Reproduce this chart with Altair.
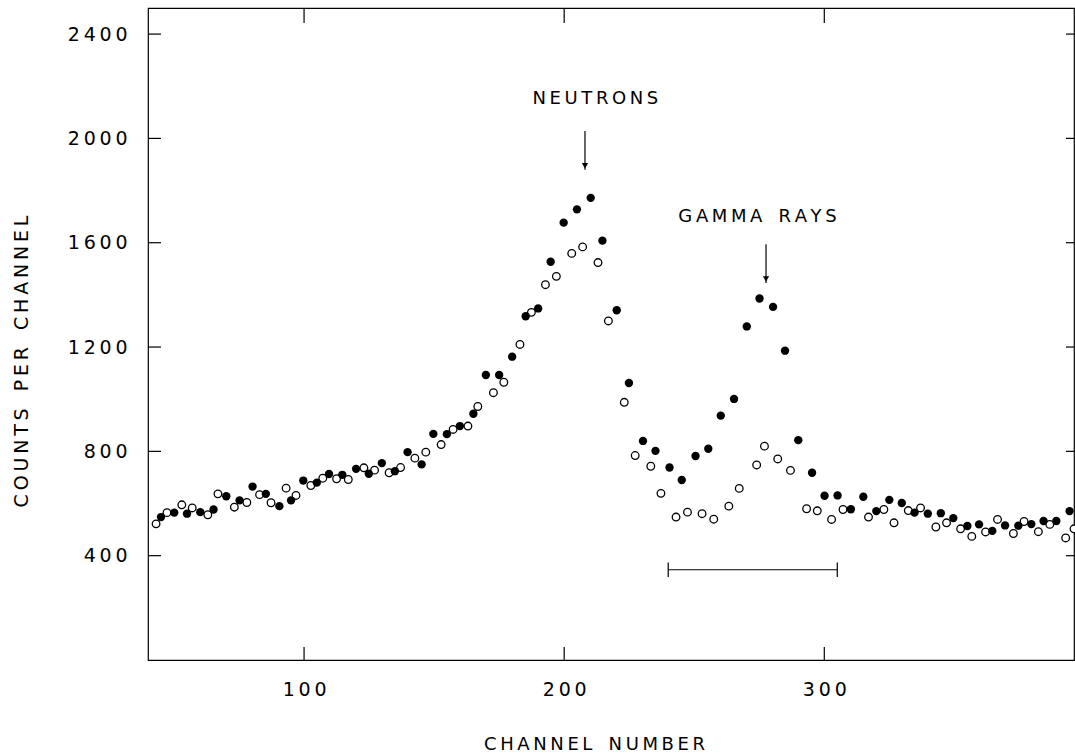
import altair as alt
import pandas as pd

# Pulse-height spectra: counts per channel for two runs
filled_channel = [45.0, 50.1, 55.0, 60.1, 65.2, 70.1, 75.2, 80.2, 85.3, 90.5,
                  95.0, 99.7, 104.9, 109.6, 114.7, 120.0, 124.9, 129.9, 134.9, 139.8,
                  145.2, 149.7, 154.9, 159.9, 165.1, 169.9, 175.0, 180.0, 185.2, 190.0,
                  194.8, 199.8, 204.9, 210.2, 214.7, 220.2, 224.9, 230.3, 235.1, 240.5,
                  245.2, 250.5, 255.4, 260.2, 265.3, 270.2, 275.1, 280.3, 284.9, 290.0,
                  295.3, 300.1, 305.1, 310.2, 315.0, 320.0, 325.0, 329.8, 334.7, 339.8,
                  344.8, 349.6, 355.0, 359.5, 364.6, 369.5, 374.6, 379.6, 384.3, 389.2,
                  394.3]
filled_counts = [548, 565, 561, 567, 577, 628, 612, 665, 637, 590,
                 612, 688, 680, 713, 710, 733, 714, 755, 724, 797,
                 750, 867, 866, 897, 944, 1093, 1093, 1163, 1318, 1348,
                 1527, 1677, 1728, 1772, 1608, 1341, 1062, 840, 802, 738,
                 690, 782, 810, 937, 1001, 1279, 1386, 1354, 1186, 843,
                 718, 630, 631, 578, 626, 571, 614, 602, 565, 561,
                 563, 544, 514, 520, 495, 516, 515, 521, 533, 533,
                 571]

open_channel = [43.1, 47.3, 53.0, 57.0, 63.0, 66.9, 73.2, 78.0, 82.9, 87.3,
                93.1, 96.9, 102.6, 107.2, 112.5, 117.0, 123.0, 127.1, 132.7, 137.1,
                142.6, 146.8, 152.7, 157.3, 163.0, 166.8, 172.8, 176.8, 183.0, 187.4,
                192.8, 197.0, 202.9, 207.1, 213.0, 217.0, 223.1, 227.3, 233.3, 237.2,
                243.0, 247.4, 253.0, 257.5, 263.3, 267.3, 274.0, 277.0, 282.1, 287.0,
                293.2, 297.3, 302.8, 307.2, 317.0, 322.9, 326.8, 332.3, 337.0, 342.9,
                347.0, 352.4, 356.7, 362.0, 366.6, 372.7, 376.8, 382.3, 386.7, 392.8,
                396.0]
open_counts = [522, 565, 595, 583, 557, 637, 586, 604, 634, 603,
               659, 631, 669, 697, 695, 692, 737, 728, 718, 738,
               774, 797, 826, 884, 897, 972, 1025, 1065, 1210, 1333,
               1439, 1471, 1559, 1584, 1524, 1300, 988, 784, 743, 639,
               548, 567, 561, 540, 590, 658, 748, 820, 771, 727,
               580, 572, 539, 577, 548, 577, 526, 573, 583, 510,
               526, 503, 474, 491, 539, 485, 531, 492, 520, 468,
               503]

x_ticks = [100, 200, 300]
y_ticks = [400, 800, 1200, 1600, 2000, 2400]

# Annotation anchors (channel, counts)
labels = ["NEUTRONS", "GAMMA RAYS"]
label_channel = [212.0, 274.3]
label_counts = [2150, 1700]
arrow_channel = [208.0, 277.6]
arrow_top = [2028, 1594]
arrow_tip = [1880, 1446]
window_lo, window_hi, window_level = 240, 305, 346

W, H = 926, 652
SP = "\u2009"  # thin space used for the spaced-out lettering
EN = "\u2002"  # en space for the gaps between words (SVG collapses plain spaces)
FONT = "DejaVu Sans"


def spaced(text, gap=EN):
    # letter-space each word, and leave a wider gap between words
    return (SP + gap + SP).join(SP.join(w) for w in text.split(" "))


filled_df = pd.DataFrame({"ch": filled_channel, "n": filled_counts})
open_df = pd.DataFrame({"ch": open_channel, "n": open_counts})
xs = alt.Scale(domain=[40, 396], nice=False, zero=False)
ys = alt.Scale(domain=[0, 2500], nice=False)

x_enc = alt.X("ch:Q", scale=xs, axis=alt.Axis(
    title=spaced("CHANNEL NUMBER"),
    values=x_ticks, format="d", grid=False, ticks=False, tickSize=0, domain=False,
    labelExpr="join(split(datum.label, ''), '" + SP + "')",
    labelPadding=20, labelFontSize=19, labelFont=FONT, labelColor="black",
    titleFont=FONT, titleFontSize=18, titleFontWeight="normal", titleColor="black",
    titleX=446, titleY=84, titleBaseline="middle", titleAlign="center"))
y_enc = alt.Y("n:Q", scale=ys, axis=alt.Axis(
    title=spaced("COUNTS PER CHANNEL"),
    values=y_ticks, format="d", grid=False, ticks=False, tickSize=0, domain=False,
    labelExpr="join(split(datum.label, ''), '" + SP + "')",
    labelPadding=21, labelFontSize=19, labelFont=FONT, labelColor="black",
    titleFont=FONT, titleFontSize=19, titleFontWeight="normal", titleColor="black",
    titleX=-127, titleY=353, titleAngle=270, titleBaseline="middle", titleAlign="center"))

open_pts = alt.Chart(open_df).mark_circle(
    size=58, fill="white", stroke="black", strokeWidth=1.3, opacity=1
).encode(x=x_enc, y=y_enc)

filled_pts = alt.Chart(filled_df).mark_circle(
    size=70, color="black", opacity=1
).encode(x="ch:Q", y="n:Q")

# Inward ticks on all four sides of the frame
xt = pd.DataFrame({"ch": x_ticks})
yt = pd.DataFrame({"n": y_ticks})
tick_style = dict(color="black", strokeWidth=1.2)
bottom_ticks = alt.Chart(xt).mark_rule(**tick_style).encode(
    x="ch:Q", y=alt.value(H), y2=alt.value(H - 13))
top_ticks = alt.Chart(xt).mark_rule(**tick_style).encode(
    x="ch:Q", y=alt.value(0), y2=alt.value(15))
left_ticks = alt.Chart(yt).mark_rule(**tick_style).encode(
    y="n:Q", x=alt.value(0), x2=alt.value(13))
right_ticks = alt.Chart(yt).mark_rule(**tick_style).encode(
    y="n:Q", x=alt.value(W), x2=alt.value(W - 8))

lab_df = pd.DataFrame({"ch": label_channel, "n": label_counts,
                       "t": [spaced(s) for s in labels]})
label_text = alt.Chart(lab_df).mark_text(
    font=FONT, fontSize=18, color="black", align="center", baseline="middle"
).encode(x="ch:Q", y="n:Q", text="t:N")

arr_df = pd.DataFrame({"ch": arrow_channel, "n": arrow_top, "n2": arrow_tip})
arrow_shaft = alt.Chart(arr_df).mark_rule(color="black", strokeWidth=1.2).encode(
    x="ch:Q", y="n:Q", y2="n2:Q")
arrow_head = alt.Chart(arr_df).mark_point(
    shape="triangle-down", size=40, filled=True, color="black", opacity=1, yOffset=-4
).encode(x="ch:Q", y="n2:Q")

win_df = pd.DataFrame({"a": [window_lo], "b": [window_hi], "n": [window_level]})
window_bar = alt.Chart(win_df).mark_rule(color="black", strokeWidth=1.2).encode(
    x="a:Q", x2="b:Q", y="n:Q")
cap_df = pd.DataFrame({"ch": [window_lo, window_hi], "lo": [window_level - 28] * 2,
                       "hi": [window_level + 28] * 2})
window_caps = alt.Chart(cap_df).mark_rule(color="black", strokeWidth=1.2).encode(
    x="ch:Q", y="lo:Q", y2="hi:Q")

chart = alt.layer(
    open_pts, filled_pts, bottom_ticks, top_ticks, left_ticks, right_ticks,
    label_text, arrow_shaft, arrow_head, window_bar, window_caps
).properties(
    width=W, height=H,
    autosize=alt.AutoSizeParams(type="none"),
    padding={"left": 148, "top": 8, "right": 1, "bottom": 96},
    background="white",
).configure_view(stroke="black", strokeWidth=1.2)

chart.save("out.html", embed_options={"renderer": "svg", "actions": False})
